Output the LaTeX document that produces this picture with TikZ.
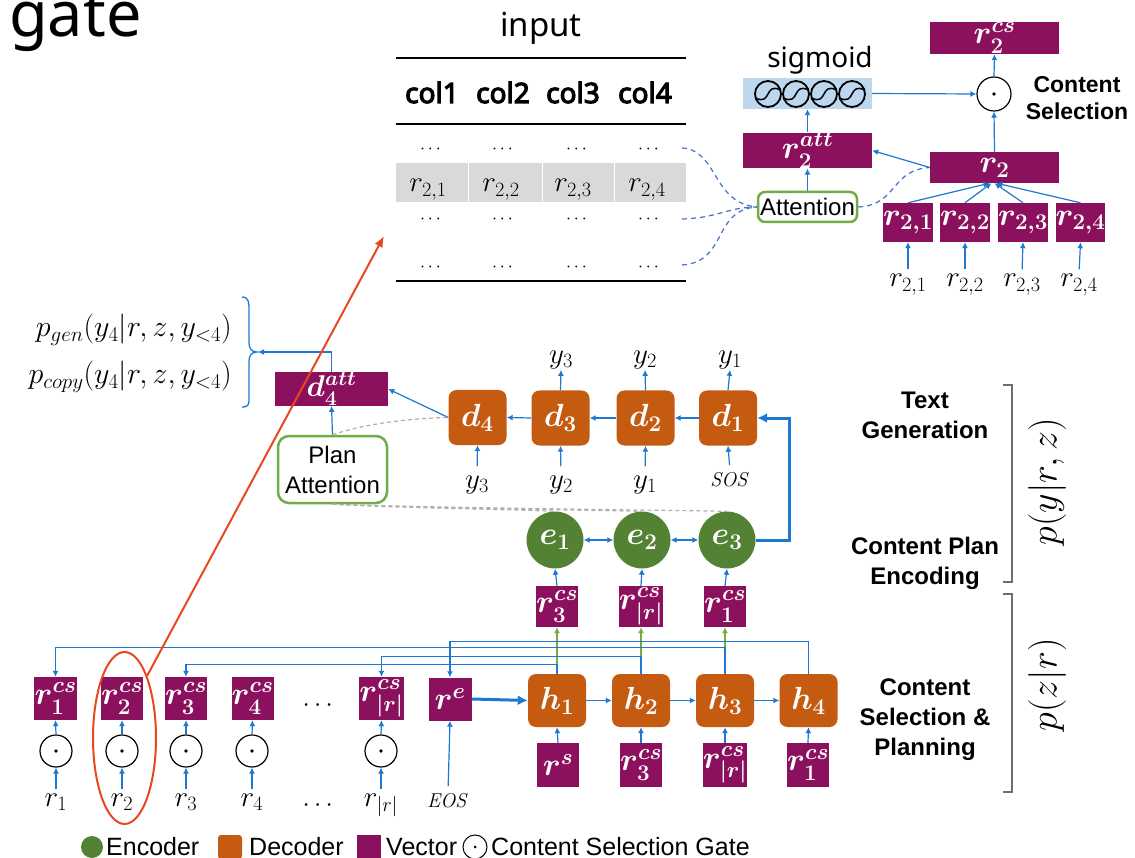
\RequirePackage{fix-cm}
\documentclass[tikz,border=0pt]{standalone}
\usepackage[no-math]{fontspec}
\usepackage{amsmath}
\usetikzlibrary{arrows.meta,shapes.geometric,calc}
\newfontfamily\arialf{Liberation Sans}
\newfontfamily\notof{Noto Sans}
\newfontfamily\notob{Noto Sans}[FakeBold=4]
\newcommand{\fsz}[1]{\fontsize{#1}{#1}\selectfont}
\definecolor{vpurple}{RGB}{139,16,94}
\definecolor{dorange}{RGB}{197,90,17}
\definecolor{egreen}{RGB}{84,130,53}
\definecolor{agreen}{RGB}{112,173,71}
\definecolor{ablue}{RGB}{30,120,210}
\definecolor{dblue}{RGB}{68,114,196}
\definecolor{sigblue}{RGB}{189,215,238}
\definecolor{rowgray}{RGB}{217,217,217}
\definecolor{hlred}{RGB}{232,72,30}
\definecolor{brgray}{RGB}{110,110,110}
\definecolor{dgray}{RGB}{175,175,175}
\tikzset{
  vec/.style={fill=vpurple, text=white, inner sep=0pt, font=\fsz{32}},
  dec/.style={fill=dorange, text=white, rounded corners=8pt, minimum width=58pt, minimum height=55pt, inner sep=0pt, font=\fsz{32}},
  enc/.style={circle, fill=egreen, text=white, minimum size=57pt, inner sep=0pt, font=\fsz{32}},
  gatec/.style={circle, draw=black, line width=1.2pt, minimum size=32pt, inner sep=0pt},
  lab/.style={inner sep=1pt, font=\fsz{29}},
  arr/.style={draw=ablue, line width=1.2pt, -{Latex[length=6pt,width=6pt]}},
  darr/.style={draw=ablue, line width=1.2pt, {Latex[length=6pt,width=6pt]}-{Latex[length=6pt,width=6pt]}},
  garr/.style={draw=agreen, line width=1.2pt, -{Latex[length=6pt,width=6pt]}},
  tarr/.style={draw=ablue, line width=3pt, -{Latex[length=10pt,width=10pt]}},
  battn/.style={draw=agreen, line width=2.5pt, rounded corners=7pt, fill=white, font=\arialf\fsz{24}, inner sep=1pt},
  bdash/.style={draw=dblue, line width=1.2pt, dash pattern=on 5pt off 4pt},
  gdash/.style={draw=dgray, line width=1.2pt, dash pattern=on 4pt off 3pt},
  side/.style={font=\arialf\bfseries\fontsize{24}{30}\selectfont, align=center},
  leg/.style={font=\arialf\fsz{25}, anchor=west, inner sep=0pt},
  bracket/.style={draw=brgray, line width=1.8pt}
}
\begin{document}
\begin{tikzpicture}[x=1pt,y=-1pt]
\useasboundingbox (0,0) rectangle (1135,858);

% title fragment
\node[anchor=base west, inner sep=0pt, font=\notof\fsz{63}] (title) at (9,37) {gate};

% ---------- input table ----------
\node[anchor=base, inner sep=0pt, font=\notof\fsz{33}] (inp) at (541,37) {input};
\draw[line width=1.5pt] (396,58) -- (686,58);
\draw[line width=1.5pt] (396,124) -- (686,124);
\draw[line width=2pt] (396,281) -- (686,281);
\fill[rowgray] (396,163) rectangle (686,202);
\foreach \sx in {468,542,614} \draw[white, line width=1pt] (\sx,163) -- (\sx,202);
\foreach \cx/\ct in {432/col1,503/col2,573/col3,645/col4}
  \node[anchor=base, inner sep=0pt, font=\notob\fsz{28}] at (\cx,103) {\ct};
\foreach \cx/\i in {432/1,504/2,578/3,650/4}{
  \node[inner sep=1pt, font=\fsz{18}] (ta\i) at (\cx,150) {$\cdots$};
  \node[inner sep=1pt, font=\fsz{18}] (tc\i) at (\cx,220) {$\cdots$};
  \node[inner sep=1pt, font=\fsz{18}] (td\i) at (\cx,268) {$\cdots$};
}
\node[lab, anchor=base] (tb1) at (428,192) {$r_{2,1}$};
\node[lab, anchor=base] (tb2) at (501,192) {$r_{2,2}$};
\node[lab, anchor=base] (tb3) at (573,192) {$r_{2,3}$};
\node[lab, anchor=base] (tb4) at (647,192) {$r_{2,4}$};

% ---------- content selection (top right) ----------
\node[vec, minimum width=129pt, minimum height=32pt] (r2cs) at (994.5,38) {$\boldsymbol{r^{cs}_2}$};
\node[anchor=base, inner sep=0pt, font=\notof\fsz{28}] (siglab) at (820,68) {sigmoid};
\node[fill=sigblue, minimum width=129pt, minimum height=31pt, inner sep=0pt] (sig) at (807.5,93.5) {};
\foreach \cx in {768,796,824,852}{
  \draw[line width=1.8pt] (\cx,94) circle (13pt);
  \draw[line width=1.5pt] (\cx-12.5,98) .. controls (\cx+4,106) and (\cx-4,82) .. (\cx+12.5,90);
}
\node[gatec, minimum size=34pt] (gtop) at (994,94) {};
\fill (gtop.center) circle (1.8pt);
\node[font=\arialf\bfseries\fontsize{23}{27}\selectfont, align=center] (cslab) at (1077,98.5) {Content\\Selection};
\node[vec, minimum width=129pt, minimum height=31pt] (r2att) at (807.5,150.5) {$\boldsymbol{r^{att}_2}$};
\node[vec, minimum width=129pt, minimum height=31pt] (r2) at (994.5,167.5) {$\boldsymbol{r_2}$};
\node[battn, minimum width=99pt, minimum height=30pt] (attn) at (807.5,207) {Attention};
\node[vec, minimum width=45pt, minimum height=39pt] (q1) at (908,222.5) {$\boldsymbol{r_{2,1}}$};
\node[vec, minimum width=45pt, minimum height=39pt] (q2) at (965,222.5) {$\boldsymbol{r_{2,2}}$};
\node[vec, minimum width=45pt, minimum height=39pt] (q3) at (1023,222.5) {$\boldsymbol{r_{2,3}}$};
\node[vec, minimum width=45pt, minimum height=39pt] (q4) at (1080.5,222.5) {$\boldsymbol{r_{2,4}}$};
\node[lab, anchor=base] (ql1) at (908,287) {$r_{2,1}$};
\node[lab, anchor=base] (ql2) at (965,287) {$r_{2,2}$};
\node[lab, anchor=base] (ql3) at (1022,287) {$r_{2,3}$};
\node[lab, anchor=base] (ql4) at (1079,287) {$r_{2,4}$};
\foreach \i in {1,2,3,4} \draw[arr, shorten <=4pt] (ql\i.north) -- (q\i.south);
\draw[arr] (q1.north) -- ($(r2.south)+(-5,0)$);
\draw[arr] (q2.north) -- ($(r2.south)+(-3,0)$);
\draw[arr] (q3.north) -- ($(r2.south)+(0,0)$);
\draw[arr] (q4.north) -- ($(r2.south)+(2,0)$);
\draw[arr] (r2.north) -- (gtop.south);
\draw[arr] (gtop.north) -- (r2cs.south);
\draw[arr] (sig.east) -- (gtop.west);
\draw[arr] (r2att.north) -- (sig.south);
\draw[arr] (attn.north) -- (r2att.south);
\draw[arr] (r2.west) -- (r2att.east);

% dashed attention links
\coordinate (da) at (682,148);
\coordinate (dc) at (682,219);
\coordinate (dd) at (682,265);
\draw[bdash] (da) .. controls (718,150) and (712,203) .. (attn.west);
\draw[bdash] (dc) .. controls (718,218) and (728,207) .. (attn.west);
\draw[bdash] (dd) .. controls (728,262) and (712,210) .. (attn.west);
\draw[bdash] (attn.east) .. controls (898,205) and (890,170) .. (r2.west);

% ---------- text generation ----------
\node[lab, anchor=base east, font=\fsz{30}] (pgen) at (233,337) {$p_{gen}(y_4|r,z,y_{<4})$};
\node[lab, anchor=base east, font=\fsz{30}] (pcopy) at (233,384) {$p_{copy}(y_4|r,z,y_{<4})$};
\draw[draw=ablue, line width=1.3pt] (242,297) .. controls (249,297) and (249,303) .. (249,310) -- (249,343)
  .. controls (249,349) and (252,352) .. (257,352) .. controls (252,352) and (249,355) .. (249,361)
  -- (249,398) .. controls (249,404) and (249,407) .. (242,407);
\coordinate (btip) at (258,352);
\node[vec, minimum width=113pt, minimum height=32pt, font=\fsz{30}] (d4att) at (331.5,389) {$\boldsymbol{d^{att}_4}$};
\node[battn, rounded corners=11pt, minimum width=109pt, minimum height=67pt, align=center, font=\arialf\fontsize{24}{30}\selectfont] (pa) at (332.5,469.5) {Plan\\Attention};
\draw[arr] (d4att.north) |- (btip);
\draw[arr] (pa.north) -- (d4att.south);

\node[dec] (d4) at (477.5,417.5) {$\boldsymbol{d_4}$};
\node[dec] (d3) at (560.5,418) {$\boldsymbol{d_3}$};
\node[dec] (d2) at (645.5,418) {$\boldsymbol{d_2}$};
\node[dec] (d1) at (728,418) {$\boldsymbol{d_1}$};
\draw[arr] (d1.west) -- (d2.east);
\draw[arr] (d2.west) -- (d3.east);
\draw[arr] (d3.west) -- (d4.east);
\draw[arr] (d4.west) -- (d4att.east);
\draw[gdash] (pa.north) .. controls (370,422) and (420,418) .. (d4.west);

\node[lab, anchor=base] (yo3) at (561,363) {$y_3$};
\node[lab, anchor=base] (yo2) at (645,363) {$y_2$};
\node[lab, anchor=base] (yo1) at (730,363) {$y_1$};
\draw[arr] (d3.north) -- (yo3.south);
\draw[arr] (d2.north) -- (yo2.south);
\draw[arr] (d1.north) -- (yo1.south);
\node[lab, anchor=base] (yi4) at (477,488) {$y_3$};
\node[lab, anchor=base] (yi3) at (561,488) {$y_2$};
\node[lab, anchor=base] (yi2) at (645,488) {$y_1$};
\node[lab, anchor=base, font=\fsz{20}] (yi1) at (730,486) {$\mathit{SOS}$};
\draw[arr, shorten <=8pt] (yi4.north) -- (d4.south);
\draw[arr, shorten <=8pt] (yi3.north) -- (d3.south);
\draw[arr, shorten <=8pt] (yi2.north) -- (d2.south);
\draw[arr, shorten <=6pt] (yi1.north) -- (d1.south);

% ---------- content plan encoding ----------
\node[enc] (e1) at (555,540) {$\boldsymbol{e_1}$};
\node[enc] (e2) at (642,540) {$\boldsymbol{e_2}$};
\node[enc] (e3) at (727,540) {$\boldsymbol{e_3}$};
\draw[darr] (e1.east) -- (e2.west);
\draw[darr] (e2.east) -- (e3.west);
\coordinate (turn) at (789,418);
\draw[tarr] (e3.east) -| (turn) -- (d1.east);
\draw[gdash] (pa.south) .. controls (400,508) and (500,509) .. (e1.north);
\draw[gdash] (pa.south) .. controls (420,508) and (580,510) .. (e2.north);
\draw[gdash] (pa.south) .. controls (440,508) and (660,510) .. (e3.north);

\node[vec, minimum width=42pt, minimum height=41pt] (z1) at (557,606.5) {$\boldsymbol{r^{cs}_3}$};
\node[vec, minimum width=44pt, minimum height=41pt] (z2) at (641,606.5) {$\boldsymbol{r^{cs}_{|r|}}$};
\node[vec, minimum width=42pt, minimum height=41pt] (z3) at (725,606.5) {$\boldsymbol{r^{cs}_1}$};
\draw[arr] (z1.north) -- (e1.south);
\draw[arr] (z2.north) -- (e2.south);
\draw[arr] (z3.north) -- (e3.south);

% ---------- content selection & planning ----------
\node[dec, minimum height=53pt] (h1) at (557,700.5) {$\boldsymbol{h_1}$};
\node[dec, minimum height=53pt] (h2) at (641,700.5) {$\boldsymbol{h_2}$};
\node[dec, minimum height=53pt] (h3) at (725,700.5) {$\boldsymbol{h_3}$};
\node[dec, minimum height=53pt] (h4) at (808.5,700.5) {$\boldsymbol{h_4}$};
\draw[garr] (h1.north) -- (z1.south);
\draw[garr] (h2.north) -- (z2.south);
\draw[garr] (h3.north) -- (z3.south);
\draw[arr] (h1.east) -- (h2.west);
\draw[arr] (h2.east) -- (h3.west);
\draw[arr] (h3.east) -- (h4.west);

\node[vec, minimum width=42pt, minimum height=44pt] (s1) at (558,765) {$\boldsymbol{r^{s}}$};
\node[vec, minimum width=42pt, minimum height=44pt] (s2) at (641,765) {$\boldsymbol{r^{cs}_3}$};
\node[vec, minimum width=44pt, minimum height=44pt] (s3) at (725,765) {$\boldsymbol{r^{cs}_{|r|}}$};
\node[vec, minimum width=42pt, minimum height=44pt] (s4) at (808,765) {$\boldsymbol{r^{cs}_1}$};
\draw[arr] (s1.north) -- (h1.south);
\draw[arr] (s2.north) -- (h2.south);
\draw[arr] (s3.north) -- (h3.south);
\draw[arr] (s4.north) -- (h4.south);

% bottom-left row
\node[vec, minimum width=43pt, minimum height=43pt] (b1) at (55.5,698.5) {$\boldsymbol{r^{cs}_1}$};
\node[vec, minimum width=42pt, minimum height=43pt] (b2) at (122,698.5) {$\boldsymbol{r^{cs}_2}$};
\node[vec, minimum width=42pt, minimum height=43pt] (b3) at (186,698.5) {$\boldsymbol{r^{cs}_3}$};
\node[vec, minimum width=42pt, minimum height=43pt] (b4) at (252.5,698.5) {$\boldsymbol{r^{cs}_4}$};
\node[lab, font=\fsz{26}] (bdots) at (320,706) {$\cdots$};
\node[vec, minimum width=42pt, minimum height=43pt] (b5) at (381.5,698.5) {$\boldsymbol{r^{cs}_{|r|}}$};
\node[vec, minimum width=43pt, minimum height=43pt] (re) at (450,699) {$\boldsymbol{r^{e}}$};
\draw[tarr] (re.east) -- (h1.west);

\foreach \i/\cx in {1/56,2/122,3/186,4/252,5/381}{
  \node[gatec] (g\i) at (\cx,751) {};
  \fill (g\i.center) circle (1.8pt);
  \draw[arr] (g\i.north) -- (b\i.south);
}
\node[lab, anchor=base] (l1) at (56,806) {$r_1$};
\node[lab, anchor=base] (l2) at (122,806) {$r_2$};
\node[lab, anchor=base] (l3) at (186,806) {$r_3$};
\node[lab, anchor=base] (l4) at (252,806) {$r_4$};
\node[lab, font=\fsz{26}] (ldots) at (320,806) {$\cdots$};
\node[lab, anchor=base] (l5) at (381,806) {$r_{|r|}$};
\foreach \i in {1,...,5} \draw[arr, shorten <=3pt] (l\i.north) -- (g\i.south);
\node[lab, anchor=base, font=\fsz{20}] (eos) at (448,807) {$\mathit{EOS}$};
\draw[arr, shorten <=6pt] (eos.north) -- (re.south);

% feedback bundle from h to selected records
\draw[arr] (h4.north) -- ++(0,-32) -| (re.north);
\draw[arr] (h3.north) -- ++(0,-26) -| (b1.north);
\draw[arr] (h2.north) -- ++(0,-17) -| (b5.north);
\draw[arr] (h1.north) -- ++(0,-9) -| (b3.north);

% ---------- side labels and brackets ----------
\node[side] (tg) at (925,415) {Text\\Generation};
\node[side] (cpe) at (925,563) {Content Plan\\Encoding};
\node[side] (csp) at (925,720) {Content\\Selection \&\\Planning};
\draw[bracket] (1003,385) -- (1012,385) -- (1012,582) -- (1003,582);
\draw[bracket] (1003,594) -- (1012,594) -- (1012,792) -- (1003,792);
\node[rotate=90, inner sep=0pt, font=\fsz{38}] (pyrz) at (1047,482) {$p(y|r,z)$};
\node[rotate=90, inner sep=0pt, font=\fsz{38}] (pzr) at (1047,685) {$p(z|r)$};

% ---------- legend ----------
\node[circle, fill=egreen, minimum size=22pt, inner sep=0pt] (lg1) at (92,847) {};
\node[leg] (lt1) at (106,847) {Encoder};
\node[fill=dorange, rounded corners=3pt, minimum size=24pt, inner sep=0pt] (lg2) at (230,847) {};
\node[leg] (lt2) at (249,847) {Decoder};
\node[fill=vpurple, minimum size=24pt, inner sep=0pt] (lg3) at (369,847) {};
\node[leg] (lt3) at (386,847) {Vector};
\node[gatec, minimum size=24pt, line width=1pt] (lg4) at (475,847) {};
\fill (lg4.center) circle (1.5pt);
\node[leg] (lt4) at (491,847) {Content Selection Gate};

% ---------- highlight ----------
\node[ellipse, draw=hlred, line width=2pt, minimum width=63pt, minimum height=172pt, inner sep=0pt] (hl) at (124.5,738) {};
\coordinate (tblpt) at (384,236);
\draw[draw=hlred, line width=2pt, -{Latex[length=11pt,width=9pt]}] (hl.70) -- (tblpt);
\end{tikzpicture}
\end{document}
